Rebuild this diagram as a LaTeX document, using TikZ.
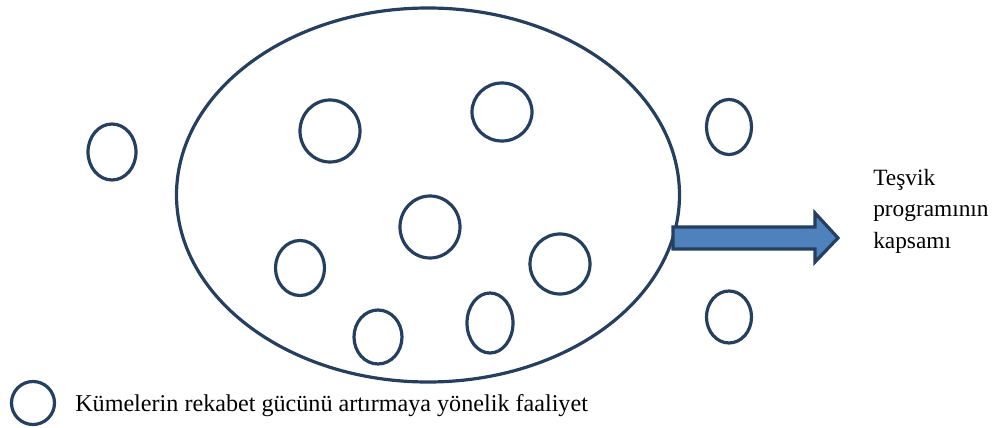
\documentclass[tikz,border=0pt]{standalone}
\usepackage{fontspec}
\setmainfont{Liberation Serif}
\usetikzlibrary{shapes.geometric}
\definecolor{koyumavi}{HTML}{243F60}
\definecolor{okmavi}{HTML}{4F81BD}
\begin{document}
\begin{tikzpicture}[x=0.75pt,y=-0.75pt,
    halka/.style={ellipse,draw=koyumavi,line width=2.4pt,inner sep=0pt},
    boy/.style 2 args={minimum width=#1*0.75pt,minimum height=#2*0.75pt},
    yazi/.style={font=\fontsize{17.5}{23.6}\selectfont,inner sep=0pt}]
      \useasboundingbox (0,0) rectangle (997,428);

      % kume
      \node[halka,boy={503}{374}] (kume) at (428,195) {};

      % faaliyetler
      \node[halka,boy={48}{56}] (f1)  at (112,152) {};
      \node[halka,boy={60}{62}] (f2)  at (330,131) {};
      \node[halka,boy={60}{58}] (f3)  at (502,112) {};
      \node[halka,boy={45}{55}] (f4)  at (729,127) {};
      \node[halka,boy={60}{62}] (f5)  at (430,227) {};
      \node[halka,boy={49}{55}] (f6)  at (300,268) {};
      \node[halka,boy={60}{60}] (f7)  at (560,264) {};
      \node[halka,boy={48}{54}] (f8)  at (378,337) {};
      \node[halka,boy={46}{60}] (f9)  at (490,323) {};
      \node[halka,boy={45}{52}] (f10) at (729,317) {};

      % ok
      \coordinate (okbas) at (673,238);
      \filldraw[fill=okmavi,draw=koyumavi,line width=2.4pt,line join=miter]
          (okbas) ++(0,-11) -- ++(142,0) -- ++(0,-14) -- (838,238)
          -- (815,262) -- ++(0,-13) -- ++(-142,0) -- cycle;
      \node[yazi,anchor=west,align=left] (kapsam) at (873,211)
          {Teşvik\\programının\\kapsamı};

      % lejant
      \node[halka,boy={43}{43}] (lejant) at (33,403) {};
      \node[yazi,font=\fontsize{18.1}{22}\selectfont,anchor=west] (aciklama) at (75,406)
          {Kümelerin rekabet gücünü artırmaya yönelik faaliyet};
    \end{tikzpicture}
\end{document}
